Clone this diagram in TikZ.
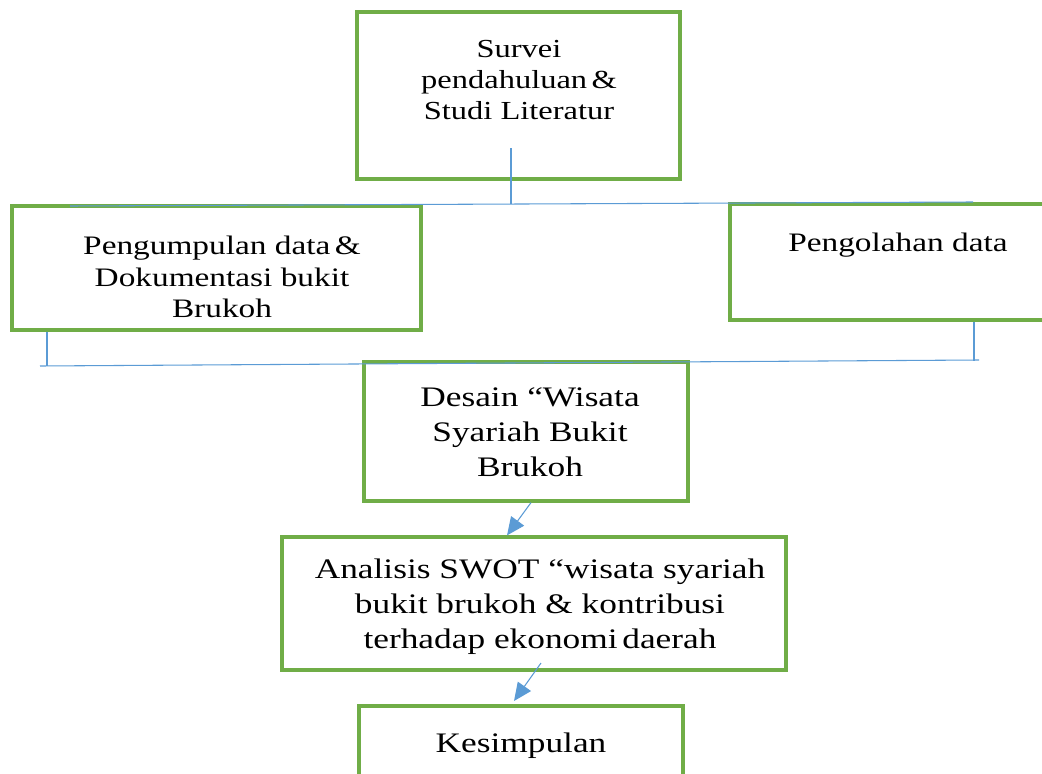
\documentclass[tikz,border=0pt]{standalone}
\usepackage{fontspec}
\setmainfont[FakeStretch=1.25]{Liberation Serif}
\usetikzlibrary{fit,calc,arrows.meta}
\definecolor{boxgreen}{HTML}{70AD47}
\definecolor{lineblue}{HTML}{5B9BD5}
\tikzset{
  box/.style={draw=boxgreen, line width=2.4pt, inner sep=0pt},
  txt/.style={align=center, inner sep=0pt, font=\fontsize{20}{23.5}\selectfont},
  txts/.style={align=center, inner sep=0pt, font=\fontsize{19.5}{23.5}\selectfont},
  txtw/.style={align=center, inner sep=0pt, font=\fontsize{21.2}{26.3}\selectfont},
  bus/.style={draw=lineblue, line width=0.8pt},
  arr/.style={draw=lineblue, line width=0.8pt, -{Triangle[length=13.5pt,width=12pt]}}
}
\begin{document}
\begin{tikzpicture}[x=0.75pt,y=-0.75pt]
\useasboundingbox (0,0) rectangle (1042,774);
\clip (0,0) rectangle (1042,774);
% boxes
\node[box, fit={(357,12) (680,179)}] (b1) {};
\node[box, fit={(12,206) (421,330)}] (b2) {};
\node[box, fit={(730,204) (1070,320)}] (b3) {};
\node[box, fit={(364,362) (688,501)}] (b4) {};
\node[box, fit={(282,537) (786,670)}] (b5) {};
\node[box, fit={(359,706) (683,800)}] (b6) {};
% texts
\node[txts] (t1) at (519,80) {Survei\\pendahuluan\,\&\\Studi Literatur};
\node[txt] (t2) at (222,277) {Pengumpulan data\,\&\\Dokumentasi bukit\\Brukoh};
\node[txt] (t3) at (898,245) {Pengolahan data};
\node[txtw] (t4) at (530,432) {Desain “Wisata\\Syariah Bukit\\Brukoh};
\node[txtw] (t5) at (540,607) {Analisis SWOT “wisata syariah\\bukit brukoh \& kontribusi\\terhadap ekonomi\,daerah};
\node[txtw] (t6) at (521,746) {Kesimpulan};
% upper bus
\coordinate (u0) at (511,148);
\coordinate (u1) at (511,204);
\coordinate (uL) at (70,206);
\coordinate (uR) at (973,202);
\draw[bus] (u0) -- (u1);
\draw[bus] (uL) -- (uR);
% lower bus
\coordinate (lL) at (40,366);
\coordinate (lR) at (979,360);
\coordinate (l2) at (47,366);
\coordinate (l3) at (974,361);
\draw[bus] (b2.south -| l2) -- (l2);
\draw[bus] (b3.south -| l3) -- (l3);
\draw[bus] (lL) -- (lR);
% arrows
\draw[arr] ($(b4.south)+(5,0)$) -- ($(b5.north)+(-27,0)$);
\coordinate (a2) at (541,663);
\coordinate (a2e) at (514,701);
\draw[arr] (a2) -- (a2e);
\end{tikzpicture}
\end{document}
